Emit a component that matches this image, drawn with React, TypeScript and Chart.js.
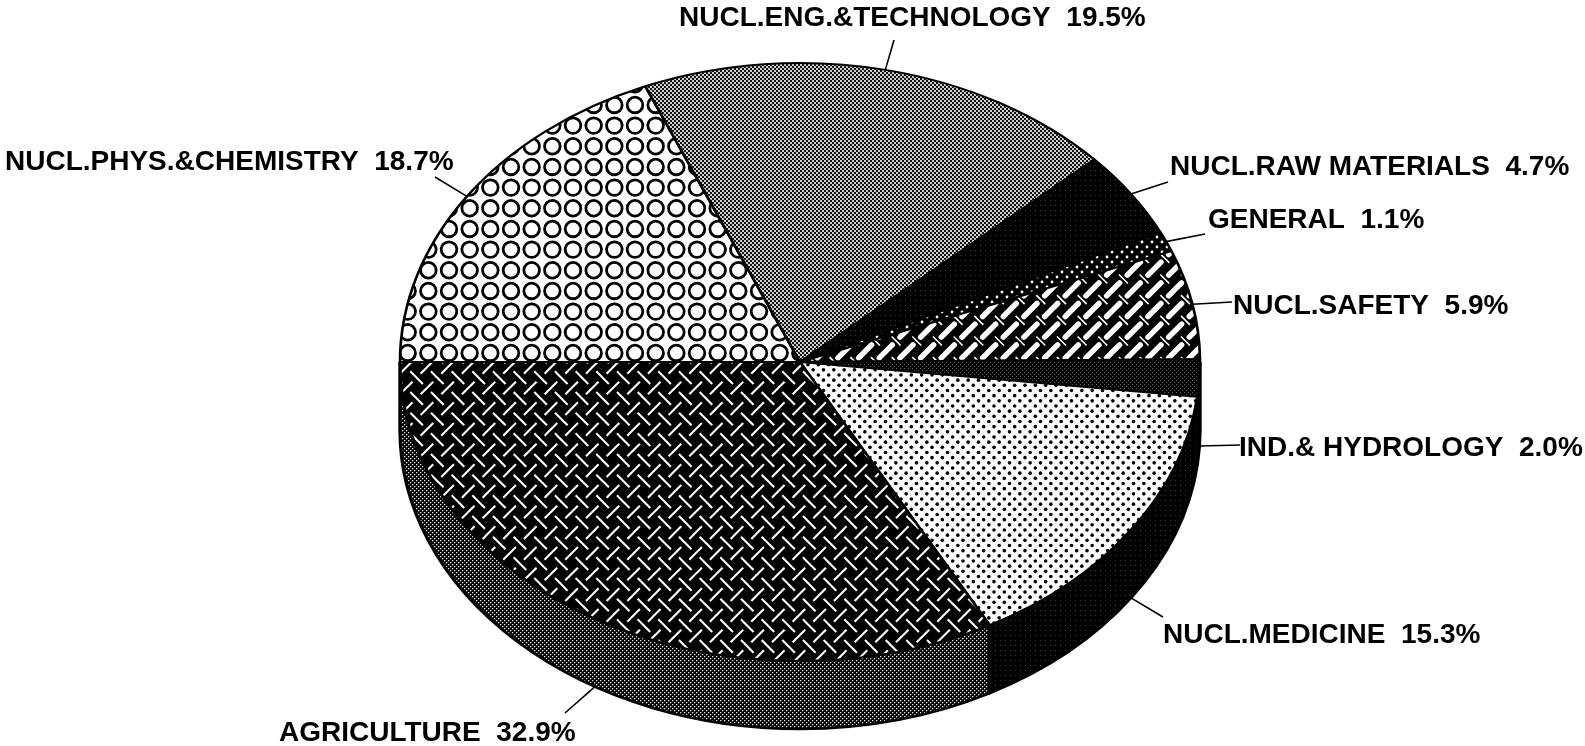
import React, { useEffect, useRef } from "react";
import { Chart, registerables } from "chart.js";

Chart.register(...registerables);

const categories = [
  "NUCL.PHYS.&CHEMISTRY",
  "NUCL.ENG.&TECHNOLOGY",
  "NUCL.RAW MATERIALS",
  "GENERAL",
  "NUCL.SAFETY",
  "IND.& HYDROLOGY",
  "NUCL.MEDICINE",
  "AGRICULTURE",
];
const shares = [18.7, 19.5, 4.7, 1.1, 5.9, 2.0, 15.3, 32.9];

// Text anchors (left, baseline) and leader-line ends, one per category
const labelX = [5, 679, 1170, 1208, 1233, 1239, 1163, 279];
const labelY = [170, 26, 175, 228, 314, 456, 643, 741];
const leaderEndX = [435, 894, 1168, 1205, 1232, 1240, 1163, 565];
const leaderEndY = [177, 40, 182, 234, 302, 445, 617, 713];

const RX = 400;
const DEPTH = 68;
const T = 62 / 3;

type Paint = (c: CanvasRenderingContext2D, size: number) => void;

function tile(ctx: CanvasRenderingContext2D, size: number, paint: Paint): CanvasPattern {
  const off = document.createElement("canvas");
  off.width = size;
  off.height = size;
  const c = off.getContext("2d")!;
  paint(c, size);
  return ctx.createPattern(off, "repeat")!;
}

function px(c: CanvasRenderingContext2D, color: string, cells: number[][], w = 1) {
  c.fillStyle = color;
  cells.forEach(([x, y]) => c.fillRect(x, y, w, w));
}

function lattice(fn: (x: number, y: number) => void, x0: number, y0: number) {
  for (let i = -1; i <= 3; i++) for (let j = -1; j <= 3; j++) fn(x0 + i * T, y0 + j * T);
}

function stroke(c: CanvasRenderingContext2D, x: number, y: number, dx: number, dy: number) {
  c.beginPath();
  c.moveTo(x - dx, y - dy);
  c.lineTo(x + dx, y + dy);
  c.stroke();
}

function makePatterns(ctx: CanvasRenderingContext2D) {
  const circles = tile(ctx, 62, (c, s) => {
    c.fillStyle = "#fff";
    c.fillRect(0, 0, s, s);
    c.strokeStyle = "#000";
    c.lineWidth = 2.8;
    lattice((x, y) => {
      c.beginPath();
      c.arc(x, y, 7.8, 0, Math.PI * 2);
      c.stroke();
    }, 15, 1.6);
  });
  const checker = tile(ctx, 4, (c, s) => {
    c.fillStyle = "#141414";
    c.fillRect(0, 0, s, s);
    px(c, "#cfcfcf", [[0, 0], [2, 2]], 2);
  });
  const sparse = tile(ctx, 5, (c, s) => {
    c.fillStyle = "#000";
    c.fillRect(0, 0, s, s);
    px(c, "#3a3a3a", [[0, 0]]);
  });
  const whiteDots = tile(ctx, 10, (c, s) => {
    c.fillStyle = "#000";
    c.fillRect(0, 0, s, s);
    c.fillStyle = "#fff";
    [[2, 2], [7, 7]].forEach(([x, y]) => {
      c.beginPath();
      c.arc(x, y, 1.4, 0, Math.PI * 2);
      c.fill();
    });
  });
  const thickWeave = tile(ctx, 62, (c, s) => {
    c.fillStyle = "#000";
    c.fillRect(0, 0, s, s);
    c.strokeStyle = "#fff";
    lattice((x, y) => {
      c.lineCap = "round";
      c.lineWidth = 5.5;
      stroke(c, x, y, 6.5, -6.5);
      c.lineCap = "butt";
      c.lineWidth = 1.6;
      stroke(c, x + T / 2, y + T / 2, 4.5, 4.5);
    }, 17.8, 0);
  });
  const grayDots = tile(ctx, 4, (c, s) => {
    c.fillStyle = "#000";
    c.fillRect(0, 0, s, s);
    px(c, "#6a6a6a", [[0, 0], [2, 2]]);
  });
  const blackDots = tile(ctx, 31, (c, s) => {
    c.fillStyle = "#fff";
    c.fillRect(0, 0, s, s);
    c.fillStyle = "#000";
    for (let i = -1; i <= 3; i++)
      for (let j = -1; j <= 3; j++)
        [[0, 0], [31 / 6, 31 / 6]].forEach(([ox, oy]) => {
          c.beginPath();
          c.arc(2 + (i * 31) / 3 + ox, 3 + (j * 31) / 3 + oy, 1.8, 0, Math.PI * 2);
          c.fill();
        });
  });
  const thinWeave = tile(ctx, 62, (c, s) => {
    c.fillStyle = "#000";
    c.fillRect(0, 0, s, s);
    c.strokeStyle = "#fff";
    c.lineWidth = 2.1;
    lattice((x, y) => {
      stroke(c, x, y, 6.3, -6.3);
      stroke(c, x + T / 2, y + T / 2, 6.3, 6.3);
    }, 13.6, 16);
  });
  const wallGray = tile(ctx, 4, (c, s) => {
    c.fillStyle = "#000";
    c.fillRect(0, 0, s, s);
    px(c, "#e6e6e6", [[0, 0], [2, 2]]);
    px(c, "#4c4c4c", [[1, 0], [3, 2], [0, 1], [2, 3]]);
  });
  return {
    faces: [circles, checker, sparse, whiteDots, thickWeave, grayDots, blackDots, thinWeave],
    walls: [circles, checker, sparse, whiteDots, thickWeave, "#000000", sparse, wallGray] as (CanvasPattern | string)[],
  };
}

export default function App() {
  const ref = useRef<HTMLCanvasElement>(null);

  useEffect(() => {
    const canvas = ref.current!;
    const ctx = canvas.getContext("2d")!;
    const { faces, walls } = makePatterns(ctx);
    const all = [...faces, ...walls].filter((p) => typeof p !== "string") as CanvasPattern[];

    const pie3d = {
      id: "pie3d",
      beforeDatasetsDraw(chart: any) {
        const arcs = chart.getDatasetMeta(0).data;
        const { x: cx, y: cy, outerRadius: r } = arcs[0];
        const sx = RX / r;
        const c = chart.ctx as CanvasRenderingContext2D;
        // keep the hatch tiles in screen pixels while the pie is stretched into an ellipse
        const inv = new DOMMatrix([1 / sx, 0, 0, 1, cx - cx / sx, 0]);
        all.forEach((p) => p.setTransform(inv));
        c.save();
        c.translate(cx, cy);
        c.scale(sx, 1);
        c.translate(-cx, -cy);
        arcs.forEach((a: any, i: number) => {
          const from = Math.max(a.startAngle, 0);
          const to = Math.min(a.endAngle, Math.PI);
          if (to <= from) return;
          c.beginPath();
          c.arc(cx, cy, r, from, to);
          c.arc(cx, cy + DEPTH, r, to, from, true);
          c.closePath();
          c.fillStyle = walls[i];
          c.fill();
          c.strokeStyle = "#000";
          c.lineWidth = 2.5;
          c.stroke();
        });
      },
      afterDatasetsDraw(chart: any) {
        const c = chart.ctx as CanvasRenderingContext2D;
        c.restore();
        const arcs = chart.getDatasetMeta(0).data;
        const { x: cx, y: cy, outerRadius: r } = arcs[0];
        const sx = RX / r;
        c.save();
        c.strokeStyle = "#000";
        c.fillStyle = "#000";
        c.lineWidth = 1.6;
        c.font = 'bold 28px "Liberation Sans"';
        c.textBaseline = "alphabetic";
        c.textAlign = "left";
        arcs.forEach((a: any, i: number) => {
          const mid = (a.startAngle + a.endAngle) / 2;
          const sy = Math.sin(mid);
          c.beginPath();
          c.moveTo(cx + Math.cos(mid) * r * sx, cy + sy * r + (sy > 0 ? DEPTH : 0));
          c.lineTo(leaderEndX[i], leaderEndY[i]);
          c.stroke();
          c.fillText(`${categories[i]}  ${shares[i].toFixed(1)}%`, labelX[i], labelY[i]);
        });
        c.restore();
      },
    };

    const chart = new Chart(canvas, {
      type: "pie",
      data: {
        labels: categories,
        datasets: [
          {
            data: shares,
            backgroundColor: faces,
            borderColor: "#000000",
            borderWidth: 2,
            clip: false,
          } as any,
        ],
      },
      options: {
        responsive: false,
        animation: false,
        rotation: -90,
        layout: { padding: { left: 500, right: 485, top: 62, bottom: 84 } },
        plugins: { legend: { display: false }, tooltip: { enabled: false } },
        events: [],
      },
      plugins: [pie3d],
    } as any);
    return () => chart.destroy();
  }, []);

  return (
    <div style={{ position: "absolute", left: 0, top: 0, width: 1585, height: 746, overflow: "hidden", background: "#fff" }}>
      <canvas ref={ref} width={1585} height={746} style={{ display: "block" }} />
    </div>
  );
}
